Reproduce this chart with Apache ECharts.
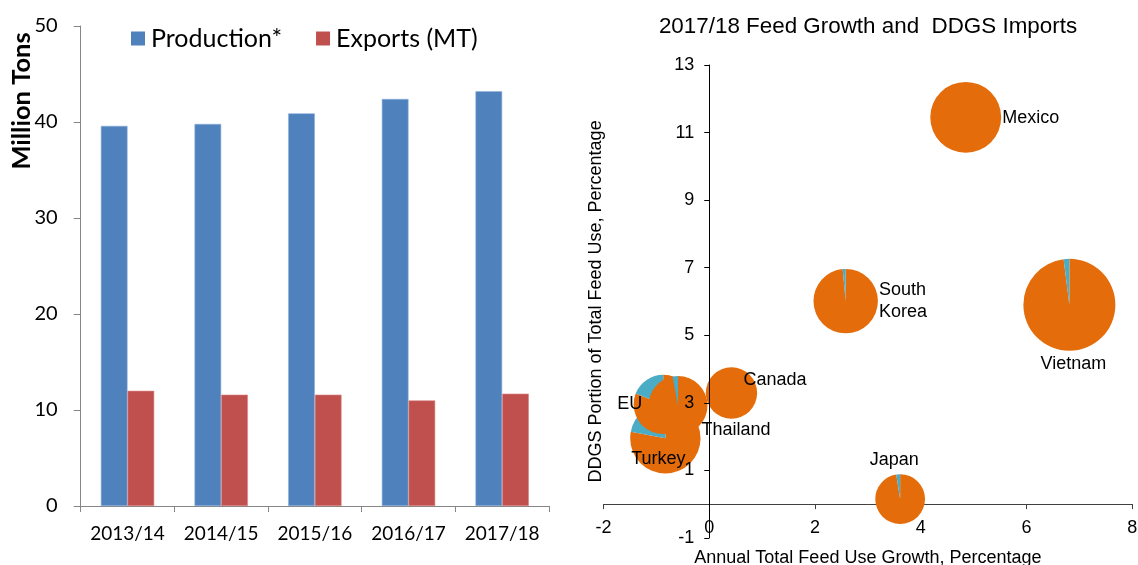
<!DOCTYPE html>
<html>
<head>
<meta charset="utf-8">
<script src="https://cdn.jsdelivr.net/npm/echarts@6/dist/echarts.min.js"></script>
<style>
html,body{margin:0;padding:0;background:#fff;}
#main{width:1138px;height:565px;}
</style>
</head>
<body>
<div id="main"></div>
<script>
// ---------- Left chart data ----------
const years = ['2013/14', '2014/15', '2015/16', '2016/17', '2017/18'];
const production = [39.6, 39.8, 40.9, 42.4, 43.2];
const exportsMT = [12.0, 11.6, 11.6, 11.0, 11.7];
const leftYTicks = [0, 10, 20, 30, 40, 50];

// ---------- Right chart data ----------
const countries = ['Mexico', 'Vietnam', 'South Korea', 'Japan', 'Canada', 'Turkey', 'EU', 'Thailand'];
const feedGrowth = [4.85, 6.81, 2.58, 3.61, 0.42, -0.83, -0.87, -0.59];
const ddgsPortion = [11.45, 5.90, 6.01, 0.15, 3.29, 1.95, 2.95, 2.92];
const bubbleSize = [126, 212, 104, 62, 66, 124, 88, 87];
const usShare = [100, 98, 98.5, 97.5, 100, 78, 81, 97];
const otherShare = [0, 2, 1.5, 2.5, 0, 22, 19, 3];
const rightXTicks = [-2, 0, 2, 4, 6, 8];
const rightYTicks = [-1, 1, 3, 5, 7, 9, 11, 13];

// ---------- styles ----------
const BLUE = '#4F81BD', RED = '#C0504D', ORANGE = '#E46C0A', CYAN = '#4BACC6';
const CAL = 'Lato', ARIAL = 'Liberation Sans';
const MAX_R = 46;
const maxSize = Math.max.apply(null, bubbleSize);
// label placement (pixel offsets from bubble centre)
const labelPlace = {
  'Mexico': {ref: 'right', dx: 1, dy: 1, align: 'left'},
  'Vietnam': {ref: 'below', dx: 4, dy: 13, align: 'center'},
  'South Korea': {ref: 'right', dx: 1, dy: 0, align: 'left', text: 'South\nKorea'},
  'Japan': {ref: 'above', dx: -6, dy: -14, align: 'center'},
  'Canada': {ref: 'c', dx: 12, dy: -13, align: 'left'},
  'Turkey': {ref: 'c', dx: -7, dy: 21, align: 'center'},
  'EU': {ref: 'c', dx: -21, dy: 0, align: 'right'},
  'Thailand': {ref: 'c', dx: 23.5, dy: 24.5, align: 'left'}
};

const pieData = countries.map((c, i) => [feedGrowth[i], ddgsPortion[i], bubbleSize[i], usShare[i], otherShare[i], c]);

function radiusOf(v) { return MAX_R * Math.sqrt(v / maxSize); }

function renderPie(params, api) {
  const c = api.coord([api.value(0), api.value(1)]);
  const r = radiusOf(api.value(2));
  const us = api.value(3), other = api.value(4);
  const total = us + other;
  const start = -Math.PI / 2;
  const mid = start + 2 * Math.PI * us / total;
  const children = [{
    type: 'sector',
    shape: {cx: c[0], cy: c[1], r: r, r0: 0, startAngle: start, endAngle: mid, clockwise: true},
    style: {fill: ORANGE}
  }];
  if (other > 0) {
    children.push({
      type: 'sector',
      shape: {cx: c[0], cy: c[1], r: r, r0: 0, startAngle: mid, endAngle: start + 2 * Math.PI, clockwise: true},
      style: {fill: CYAN}
    });
  }
  return {type: 'group', children: children};
}

function renderLabel(params, api) {
  const name = countries[params.dataIndex];
  const c = api.coord([api.value(0), api.value(1)]);
  const r = radiusOf(api.value(2));
  const p = labelPlace[name];
  let x = c[0] + p.dx, y = c[1] + p.dy;
  if (p.ref === 'right') x = c[0] + r + p.dx;
  if (p.ref === 'below') y = c[1] + r + p.dy;
  if (p.ref === 'above') y = c[1] - r + p.dy;
  return {
    type: 'text',
    x: x, y: y,
    style: {
      text: p.text || name,
      fill: '#000',
      font: '18px "' + ARIAL + '"',
      align: p.align,
      verticalAlign: 'middle',
      lineHeight: 22
    }
  };
}

const chart = echarts.init(document.getElementById('main'), null, {renderer: 'canvas'});

const option = {
  animation: false,
  backgroundColor: '#fff',
  legend: {
    data: ['Production*', 'Exports (MT)'],
    left: 126, top: 21,
    itemWidth: 14, itemHeight: 14, itemGap: 34,
    icon: 'rect',
    itemStyle: {borderWidth: 0},
    textStyle: {fontFamily: CAL, fontSize: 25, color: '#000', padding: [0, 0, 0, 1]}
  },
  graphic: [
    {
      type: 'text', x: 22, y: 101, rotation: Math.PI / 2,
      style: {text: 'Million Tons', font: 'bold 25.5px "' + CAL + '"', fill: '#000', align: 'center', verticalAlign: 'middle'}
    },
    {
      type: 'text', x: 868, y: 27,
      style: {text: '2017/18 Feed Growth and  DDGS Imports', font: '22.4px "' + ARIAL + '"', fill: '#000', align: 'center', verticalAlign: 'middle'}
    }
  ],
  grid: [
    {left: 80.7, top: 26, width: 468.3, height: 480, containLabel: false, outerBoundsMode: 'none'},
    {left: 603.5, top: 65, width: 528.8, height: 472.9, containLabel: false, outerBoundsMode: 'none'}
  ],
  xAxis: [
    {
      gridIndex: 0, type: 'category', data: years,
      axisLine: {lineStyle: {color: '#868686', width: 1}},
      axisTick: {show: true, length: 6, lineStyle: {color: '#868686'}},
      axisLabel: {fontFamily: CAL, fontSize: 19, color: '#000', margin: 18, interval: 0, hideOverlap: false}
    },
    {
      gridIndex: 1, type: 'value', min: -2, max: 8, interval: 2,
      axisLine: {onZero: false, lineStyle: {color: '#404040', width: 1}},
      axisTick: {show: true, length: 5, lineStyle: {color: '#404040'}},
      axisLabel: {fontFamily: ARIAL, fontSize: 18, color: '#000', margin: 15, showMinLabel: true, showMaxLabel: true},
      splitLine: {show: false},
      name: 'Annual Total Feed Use Growth, Percentage',
      nameLocation: 'middle', nameGap: 45, nameMoveOverlap: false,
      nameTextStyle: {fontFamily: ARIAL, fontSize: 18, color: '#000'}
    }
  ],
  yAxis: [
    {
      gridIndex: 0, type: 'value', min: 0, max: 50, interval: 10,
      axisLine: {show: true, lineStyle: {color: '#868686', width: 1}},
      axisTick: {show: true, length: 7, lineStyle: {color: '#868686'}},
      axisLabel: {fontFamily: CAL, fontSize: 20, color: '#000', margin: 23,
        customValues: leftYTicks},
      splitLine: {show: false}
    },
    {
      gridIndex: 1, type: 'value', min: -1, max: 13,
      z: 5,
      axisLine: {show: true, onZero: false, lineStyle: {color: '#000', width: 1}},
      axisTick: {show: true, length: 5, lineStyle: {color: '#000'}, customValues: rightYTicks},
      axisLabel: {fontFamily: ARIAL, fontSize: 18, color: '#000', margin: 15, customValues: rightYTicks},
      splitLine: {show: false},
      name: 'DDGS Portion of Total Feed Use, Percentage',
      nameLocation: 'middle', nameGap: 104, nameMoveOverlap: false,
      nameTextStyle: {fontFamily: ARIAL, fontSize: 18, color: '#000'}
    }
  ],
  series: [
    {
      name: 'Production*', type: 'bar', xAxisIndex: 0, yAxisIndex: 0,
      data: production, barGap: 0, barCategoryGap: '43%',
      itemStyle: {color: BLUE, borderColor: '#8DB0DA', borderWidth: 0.6}
    },
    {
      name: 'Exports (MT)', type: 'bar', xAxisIndex: 0, yAxisIndex: 0,
      data: exportsMT, barGap: 0, barCategoryGap: '43%',
      itemStyle: {color: RED, borderColor: '#DA8A88', borderWidth: 0.6}
    },
    {
      name: 'pies', type: 'custom', xAxisIndex: 1, yAxisIndex: 1,
      coordinateSystem: 'cartesian2d', clip: false, z: 2,
      data: pieData, renderItem: renderPie
    },
    {
      name: 'pieLabels', type: 'custom', xAxisIndex: 1, yAxisIndex: 1,
      coordinateSystem: 'cartesian2d', clip: false, z: 6,
      data: pieData, renderItem: renderLabel
    }
  ]
};
chart.setOption(option);

// Move both right-hand axes so they cross at the data origin (0,0), using the library's scales.
const origin = chart.convertToPixel({xAxisIndex: 1, yAxisIndex: 1}, [0, 0]);
const gridLeftPx = chart.convertToPixel({xAxisIndex: 1}, rightXTicks[0]);
const gridBottomPx = chart.convertToPixel({yAxisIndex: 1}, rightYTicks[0]);
chart.setOption({
  xAxis: [{}, {offset: -(gridBottomPx - origin[1])}],
  yAxis: [{}, {offset: -(origin[0] - gridLeftPx)}]
});
</script>
</body>
</html>
